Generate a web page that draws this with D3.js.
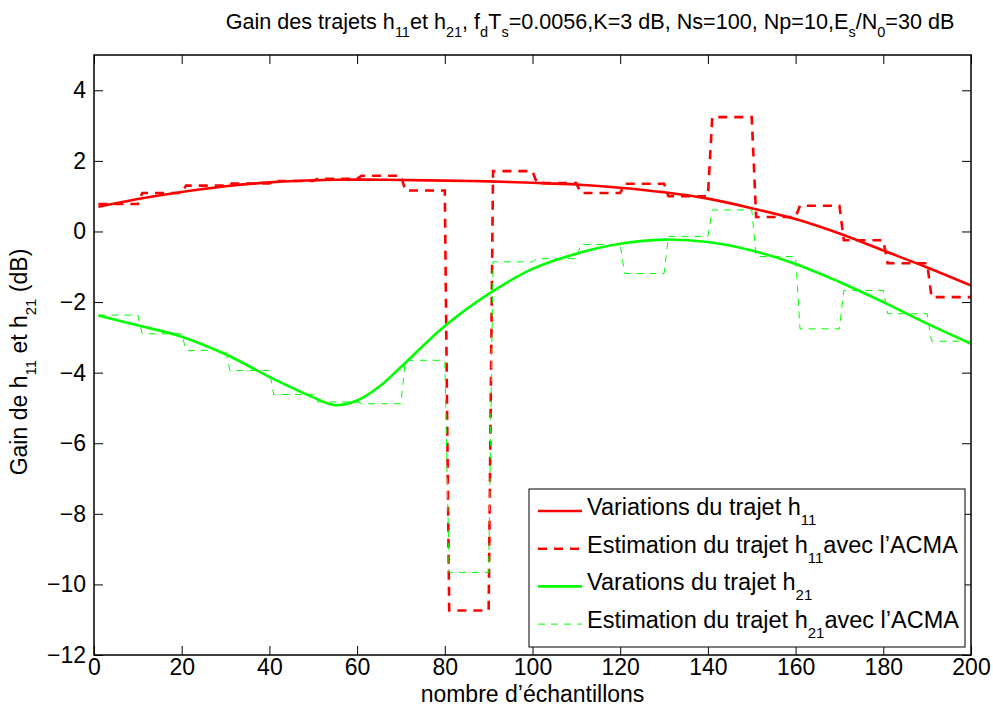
<!DOCTYPE html>
<html>
<head>
<meta charset="utf-8">
<script src="https://cdn.jsdelivr.net/npm/d3@7"></script>
<style>
  html, body { margin: 0; padding: 0; background: #fff; }
  text { font-family: "Liberation Sans", Arial, Helvetica, sans-serif; fill: #000; }
</style>
</head>
<body>
<svg id="chart" width="993" height="713"></svg>
<script>
// ---------- data ----------
const xTicks = [0, 20, 40, 60, 80, 100, 120, 140, 160, 180, 200];
const yTicks = [-12, -10, -8, -6, -4, -2, 0, 2, 4];

// true channel gains (sampled along the curve)
const sampleIdx = [1, 10, 20, 30, 40, 50, 55, 60, 65, 70, 80, 90, 100, 110, 120, 130, 140, 150, 160, 170, 180, 190, 200];
const h11True = [0.70, 0.92, 1.12, 1.28, 1.39, 1.45, 1.465, 1.47, 1.465, 1.46, 1.44, 1.42, 1.38, 1.33, 1.24, 1.11, 0.93, 0.66, 0.35, -0.06, -0.54, -1.02, -1.53];
const h21True = [-2.38, -2.66, -2.98, -3.48, -4.12, -4.70, -4.92, -4.79, -4.40, -3.84, -2.68, -1.77, -1.06, -0.63, -0.35, -0.23, -0.30, -0.54, -0.92, -1.43, -2.00, -2.61, -3.18];

// ACMA estimates, one value per block of Np=10 samples
const blockFirst = [1, 11, 21, 31, 41, 51, 61, 71, 81, 91, 101, 111, 121, 131, 141, 151, 161, 171, 181, 191];
const blockLast  = [10, 20, 30, 40, 50, 60, 70, 80, 90, 100, 110, 120, 130, 140, 150, 160, 170, 180, 190, 200];
const h11Est = [0.78, 1.09, 1.30, 1.36, 1.43, 1.49, 1.58, 1.16, -10.74, 1.71, 1.37, 1.09, 1.35, 1.00, 3.24, 0.41, 0.73, -0.25, -0.90, -1.86];
const h21Est = [-2.37, -2.90, -3.37, -3.94, -4.62, -4.83, -4.88, -3.65, -9.66, -0.86, -0.77, -0.37, -1.19, -0.14, 0.61, -0.71, -2.76, -1.67, -2.33, -3.11];

const legendLabels = [
  {main: "Variations du trajet h", sub: "11", after: ""},
  {main: "Estimation du trajet h", sub: "11", after: "avec l\u2019ACMA"},
  {main: "Varations du trajet h", sub: "21", after: ""},
  {main: "Estimation du trajet h", sub: "21", after: "avec l\u2019ACMA"}
];

// ---------- layout ----------
const svg = d3.select("#chart");
const M = {left: 94, right: 971, top: 55, bottom: 655};
const FS = 23, SUB = 15, LFS = 23.5;

const x = d3.scaleLinear().domain([0, 200]).range([M.left, M.right]);
const y = d3.scaleLinear().domain([-12, 5]).range([M.bottom, M.top]);

svg.append("rect").attr("x", 0).attr("y", 0).attr("width", 993).attr("height", 713).attr("fill", "#fff");

// axes (Matlab-style inward ticks, box on)
const tickLen = 9;
const gx = svg.append("g").attr("transform", `translate(0,${M.bottom})`)
  .call(d3.axisBottom(x).tickValues(xTicks).tickSizeInner(-tickLen).tickSizeOuter(0).tickPadding(4));
const gxTop = svg.append("g").attr("transform", `translate(0,${M.top})`)
  .call(d3.axisTop(x).tickValues(xTicks).tickSizeInner(-tickLen).tickSizeOuter(0).tickFormat(""));
const gy = svg.append("g").attr("transform", `translate(${M.left},0)`)
  .call(d3.axisLeft(y).tickValues(yTicks).tickSizeInner(-tickLen).tickSizeOuter(0).tickPadding(8)
    .tickFormat(d => d < 0 ? "\u2212" + Math.abs(d) : String(d)));
const gyRight = svg.append("g").attr("transform", `translate(${M.right},0)`)
  .call(d3.axisRight(y).tickValues(yTicks).tickSizeInner(-tickLen).tickSizeOuter(0).tickFormat(""));
[gx, gxTop, gy, gyRight].forEach(g => {
  g.select(".domain").remove();
  g.selectAll(".tick line").attr("stroke", "#000").attr("stroke-width", 1);
  g.selectAll(".tick text").style("font-size", FS + "px").attr("fill", "#000");
});

// data lines, clipped to axes
svg.append("clipPath").attr("id", "clip").append("rect")
  .attr("x", M.left).attr("y", M.top).attr("width", M.right - M.left).attr("height", M.bottom - M.top);
const plot = svg.append("g").attr("clip-path", "url(#clip)");

const smooth = d3.line().x(d => x(d[0])).y(d => y(d[1])).curve(d3.curveCatmullRom.alpha(0.5));
const straight = d3.line().x(d => x(d[0])).y(d => y(d[1]));

function stepPoints(vals) {
  const pts = [];
  vals.forEach((v, i) => { pts.push([blockFirst[i], v]); pts.push([blockLast[i], v]); });
  return pts;
}

plot.append("path").attr("d", smooth(sampleIdx.map((s, i) => [s, h11True[i]])))
  .attr("fill", "none").attr("stroke", "#ff0000").attr("stroke-width", 2.6);
plot.append("path").attr("d", straight(stepPoints(h11Est)))
  .attr("fill", "none").attr("stroke", "#ff0000").attr("stroke-width", 2.6).attr("stroke-dasharray", "9,7");
plot.append("path").attr("d", smooth(sampleIdx.map((s, i) => [s, h21True[i]])))
  .attr("fill", "none").attr("stroke", "#00ff00").attr("stroke-width", 2.6);
plot.append("path").attr("d", straight(stepPoints(h21Est)))
  .attr("fill", "none").attr("stroke", "#00ff00").attr("stroke-width", 1).attr("stroke-dasharray", "7,6");

// box
svg.append("rect").attr("x", M.left).attr("y", M.top).attr("width", M.right - M.left).attr("height", M.bottom - M.top)
  .attr("fill", "none").attr("stroke", "#000").attr("stroke-width", 1.5);

// title
const title = svg.append("text").attr("x", 590).attr("y", 29).attr("text-anchor", "middle").style("font-size", "21.6px");
const titleParts = [
  ["Gain des trajets h", 0], ["11", 1], ["et h", 0], ["21", 1], [", f", 0], ["d", 1], ["T", 0], ["s", 1],
  ["=0.0056,K=3 dB, Ns=100, Np=10,E", 0], ["s", 1], ["/N", 0], ["0", 1], ["=30 dB", 0]
];
let prevSub = 0;
titleParts.forEach(([t, sub]) => {
  const ts = title.append("tspan").text(t);
  if (sub) ts.style("font-size", "14.5px");
  const dy = sub === prevSub ? 0 : (sub ? 8 : -8);
  if (dy) ts.attr("dy", dy);
  prevSub = sub;
});

// axis labels
svg.append("text").attr("x", (M.left + M.right) / 2).attr("y", 702).attr("text-anchor", "middle")
  .style("font-size", FS + "px").text("nombre d\u2019\u00e9chantillons");
const yl = svg.append("text").attr("transform", `translate(27,362) rotate(-90)`)
  .attr("text-anchor", "middle").style("font-size", FS + "px");
yl.append("tspan").text("Gain de h");
yl.append("tspan").text("11").style("font-size", SUB + "px").attr("dy", 9);
yl.append("tspan").text(" et h").attr("dy", -9);
yl.append("tspan").text("21").style("font-size", SUB + "px").attr("dy", 9);
yl.append("tspan").text(" (dB)").attr("dy", -9);

// legend
const lg = svg.append("g");
lg.append("rect").attr("x", 529).attr("y", 489).attr("width", 436).attr("height", 158)
  .attr("fill", "#fff").attr("stroke", "#000").attr("stroke-width", 1);
const legStyles = [
  {c: "#ff0000", w: 2.6, dash: null},
  {c: "#ff0000", w: 2.6, dash: "9,7"},
  {c: "#00ff00", w: 2.6, dash: null},
  {c: "#00ff00", w: 1, dash: "7,6"}
];
legendLabels.forEach((lab, i) => {
  const base = 515 + i * 37.7;
  const st = legStyles[i];
  const ln = lg.append("line").attr("x1", 538).attr("x2", 582).attr("y1", base - 4).attr("y2", base - 4)
    .attr("stroke", st.c).attr("stroke-width", st.w);
  if (st.dash) ln.attr("stroke-dasharray", st.dash);
  const t = lg.append("text").attr("x", 587).attr("y", base).style("font-size", LFS + "px");
  t.append("tspan").text(lab.main);
  t.append("tspan").text(lab.sub).style("font-size", SUB + "px").attr("dy", 10);
  if (lab.after) t.append("tspan").text(lab.after).attr("dy", -10);
});
</script>
</body>
</html>
